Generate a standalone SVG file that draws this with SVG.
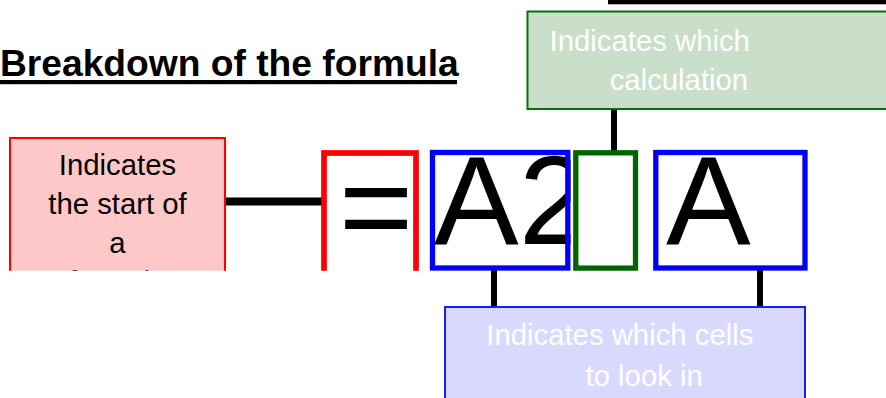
<svg xmlns="http://www.w3.org/2000/svg" width="886" height="398" viewBox="0 0 886 398">
<style>
text{font-family:"Liberation Sans",Arial,sans-serif}
.lbl{font-size:29.3px}
.big{font-size:127px;fill:#000}
.wt{fill:#ffffff}
.conn{stroke:#000;stroke-width:6;fill:none}
</style>
<defs>
<clipPath id="band"><rect x="0" y="0" width="886" height="270.7"/></clipPath>
<clipPath id="cA2"><rect x="430" y="150" width="140.5" height="120.7"/></clipPath>
<clipPath id="cA3"><rect x="653.3" y="150" width="154.4" height="120.7"/></clipPath>
<clipPath id="cEq"><rect x="321" y="150" width="98" height="120.7"/></clipPath>
</defs>
<rect x="608" y="-3" width="282" height="7.3" fill="#000"/>
<g id="title">
<text x="0" y="76" style="font-size:37.2px;font-weight:bold">Breakdown of the formula</text>
<rect x="0" y="80" width="457" height="4.2" fill="#000"/>
</g>
<g id="connectors">
<line class="conn" x1="225" y1="201.5" x2="322" y2="201.5" style="stroke-width:8"/>
<line class="conn" x1="614" y1="109" x2="614" y2="152"/>
<line class="conn" x1="494" y1="268" x2="494" y2="307"/>
<line class="conn" x1="760" y1="268" x2="760" y2="307"/>
</g>
<g id="calc-note">
<rect x="527.5" y="11.5" width="380" height="97.5" fill="#c9dfc9" stroke="#0a6e0a" stroke-width="2"/>
<text class="lbl wt" x="549.6" y="51">Indicates which</text>
<text class="lbl wt" x="609.7" y="90">calculation</text>
</g>
<g id="start-note" clip-path="url(#band)">
<rect x="10" y="138" width="215" height="160" fill="#ffc8c8" stroke="#ff0000" stroke-width="2"/>
<text class="lbl" x="117.5" y="175" text-anchor="middle">Indicates</text>
<text class="lbl" x="117.5" y="214" text-anchor="middle">the start of</text>
<text class="lbl" x="117.5" y="253" text-anchor="middle">a</text>
<text class="lbl" x="117.5" y="292" text-anchor="middle">formula</text>
</g>
<g id="equals" clip-path="url(#band)">
<text class="big" x="339" y="250" clip-path="url(#cEq)">=</text>
<rect x="324" y="153" width="92" height="140" fill="none" stroke="#ff0000" stroke-width="5.7"/>
</g>
<g id="cell-a2">
<text class="big" x="434" y="244" clip-path="url(#cA2)">A2</text>
<rect x="432.5" y="152.5" width="135.3" height="115.5" fill="none" stroke="#0000ff" stroke-width="5.3"/>
</g>
<g id="operator">
<rect x="575.8" y="152.8" width="59.7" height="115.3" fill="none" stroke="#006400" stroke-width="5.3"/>
</g>
<g id="cell-a">
<text class="big" x="666" y="244" clip-path="url(#cA3)">A</text>
<rect x="655.8" y="152.5" width="149.2" height="115.5" fill="none" stroke="#0000ff" stroke-width="5.3"/>
</g>
<g id="cells-note">
<rect x="445" y="307" width="360" height="120" fill="#d9d9ff" stroke="#1a1aff" stroke-width="2"/>
<text class="lbl wt" x="486.3" y="345">Indicates which cells</text>
<text class="lbl wt" x="585.5" y="385.5">to look in</text>
</g>
</svg>
